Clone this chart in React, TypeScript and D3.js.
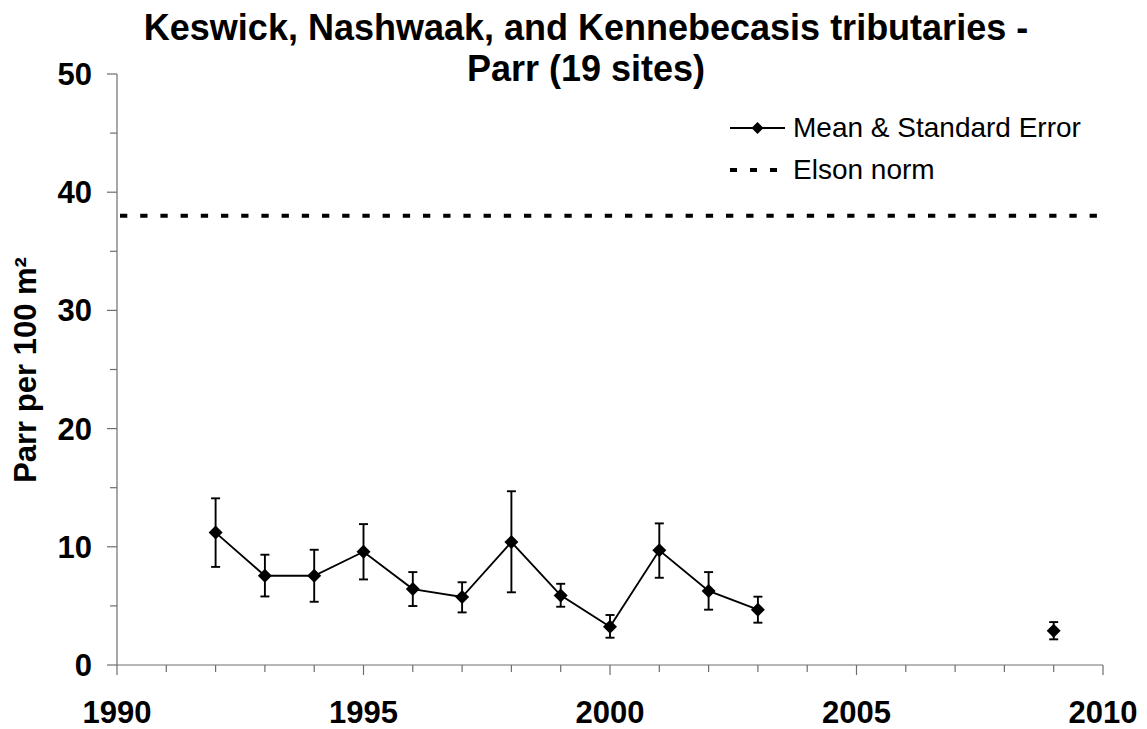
import React, { useEffect, useRef } from 'react';
import * as d3 from 'd3';

const years = [1992, 1993, 1994, 1995, 1996, 1997, 1998, 1999, 2000, 2001, 2002, 2003, 2009];
const means = [11.2, 7.55, 7.55, 9.58, 6.42, 5.75, 10.4, 5.89, 3.24, 9.7, 6.26, 4.68, 2.9];
const upper = [14.1, 9.33, 9.75, 11.92, 7.86, 7.0, 14.7, 6.87, 4.23, 11.98, 7.86, 5.78, 3.63];
const lower = [8.3, 5.8, 5.35, 7.24, 4.99, 4.45, 6.15, 4.93, 2.31, 7.38, 4.68, 3.58, 2.17];
// 2009 stands alone, not joined to the 1992-2003 run
const connected = [true, true, true, true, true, true, true, true, true, true, true, true, false];
const elsonNorm = 38;
const xTicks = [1990, 1995, 2000, 2005, 2010];
const yTicks = [0, 10, 20, 30, 40, 50];

const W = 1147;
const H = 729;

export default function App() {
  const ref = useRef<SVGSVGElement>(null);

  useEffect(() => {
    const svg = d3.select(ref.current);
    svg.selectAll('*').remove();

    const x = d3.scaleLinear().domain([1990, 2010]).range([117, 1103]);
    const y = d3.scaleLinear().domain([0, 50]).range([665, 74]);
    const axisColor = '#6e6e6e';
    const font = 'Liberation Sans, Arial, sans-serif';

    // title
    const title = svg.append('text')
      .attr('text-anchor', 'middle')
      .style('font-family', font)
      .style('font-size', '36px')
      .style('font-weight', 'bold');
    title.append('tspan').attr('x', 586).attr('y', 40).text('Keswick, Nashwaak, and Kennebecasis tributaries -');
    title.append('tspan').attr('x', 586).attr('y', 81).text('Parr (19 sites)');

    // y axis
    const gy = svg.append('g');
    gy.append('line')
      .attr('x1', x(1990)).attr('x2', x(1990))
      .attr('y1', y(0)).attr('y2', y(50))
      .attr('stroke', axisColor).attr('stroke-width', 1.2);
    d3.range(0, 51, 5).forEach(v => {
      const major = v % 10 === 0;
      gy.append('line')
        .attr('x1', x(1990) - (major ? 10 : 7)).attr('x2', x(1990))
        .attr('y1', y(v)).attr('y2', y(v))
        .attr('stroke', axisColor).attr('stroke-width', 1.2);
    });
    gy.selectAll('text.yt')
      .data(yTicks)
      .enter()
      .append('text')
      .attr('x', 92)
      .attr('y', d => y(d) + 11)
      .attr('text-anchor', 'end')
      .style('font-family', font)
      .style('font-size', '31px')
      .style('font-weight', 'bold')
      .text(d => d);

    svg.append('text')
      .attr('transform', `translate(36, 370) rotate(-90)`)
      .attr('text-anchor', 'middle')
      .style('font-family', font)
      .style('font-size', '31px')
      .style('font-weight', 'bold')
      .text('Parr per 100 m²');

    // x axis
    const gx = svg.append('g');
    gx.append('line')
      .attr('x1', x(1990)).attr('x2', x(2010))
      .attr('y1', y(0)).attr('y2', y(0))
      .attr('stroke', axisColor).attr('stroke-width', 1.2);
    d3.range(1990, 2011).forEach(v => {
      const major = v % 5 === 0;
      gx.append('line')
        .attr('x1', x(v)).attr('x2', x(v))
        .attr('y1', y(0)).attr('y2', y(0) + (major ? 10 : 7))
        .attr('stroke', axisColor).attr('stroke-width', 1.2);
    });
    gx.selectAll('text.xt')
      .data(xTicks)
      .enter()
      .append('text')
      .attr('x', d => x(d))
      .attr('y', 723)
      .attr('text-anchor', 'middle')
      .style('font-family', font)
      .style('font-size', '31px')
      .style('font-weight', 'bold')
      .text(d => d);

    // Elson norm
    svg.append('line')
      .attr('x1', x(1990) + 3).attr('x2', x(2010))
      .attr('y1', y(elsonNorm)).attr('y2', y(elsonNorm))
      .attr('stroke', '#000').attr('stroke-width', 4)
      .attr('stroke-dasharray', '7.3 12.9');

    const data = years.map((yr, i) => ({ yr, m: means[i], hi: upper[i], lo: lower[i], c: connected[i] }));

    // error bars
    const eb = svg.append('g').attr('stroke', '#000').attr('stroke-width', 1.9);
    data.forEach(d => {
      eb.append('line').attr('x1', x(d.yr)).attr('x2', x(d.yr)).attr('y1', y(d.hi)).attr('y2', y(d.lo));
      eb.append('line').attr('x1', x(d.yr) - 4.5).attr('x2', x(d.yr) + 4.5).attr('y1', y(d.hi)).attr('y2', y(d.hi));
      eb.append('line').attr('x1', x(d.yr) - 4.5).attr('x2', x(d.yr) + 4.5).attr('y1', y(d.lo)).attr('y2', y(d.lo));
    });

    // mean line
    const line = d3.line<typeof data[0]>()
      .defined(d => d.c)
      .x(d => x(d.yr))
      .y(d => y(d.m));
    svg.append('path')
      .datum(data)
      .attr('d', line)
      .attr('fill', 'none')
      .attr('stroke', '#000')
      .attr('stroke-width', 1.9);

    const diamond = (cx: number, cy: number, r: number) =>
      `M${cx},${cy - r}L${cx + r},${cy}L${cx},${cy + r}L${cx - r},${cy}Z`;

    svg.append('g')
      .selectAll('path')
      .data(data)
      .enter()
      .append('path')
      .attr('d', d => diamond(x(d.yr), y(d.m), 7))
      .attr('fill', '#000');

    // legend
    const lg = svg.append('g');
    lg.append('line')
      .attr('x1', 730).attr('x2', 785).attr('y1', 128).attr('y2', 128)
      .attr('stroke', '#000').attr('stroke-width', 1.9);
    lg.append('path').attr('d', diamond(757.5, 128, 6)).attr('fill', '#000');
    lg.append('text')
      .attr('x', 793).attr('y', 137)
      .style('font-family', font)
      .style('font-size', '28px')
      .text('Mean & Standard Error');
    lg.append('line')
      .attr('x1', 730).attr('x2', 785).attr('y1', 170).attr('y2', 170)
      .attr('stroke', '#000').attr('stroke-width', 4)
      .attr('stroke-dasharray', '7 13');
    lg.append('text')
      .attr('x', 793).attr('y', 179)
      .style('font-family', font)
      .style('font-size', '28px')
      .text('Elson norm');
  }, []);

  return (
    <svg ref={ref} width={W} height={H} style={{ position: 'absolute', left: 0, top: 0, background: '#fff' }} />
  );
}
